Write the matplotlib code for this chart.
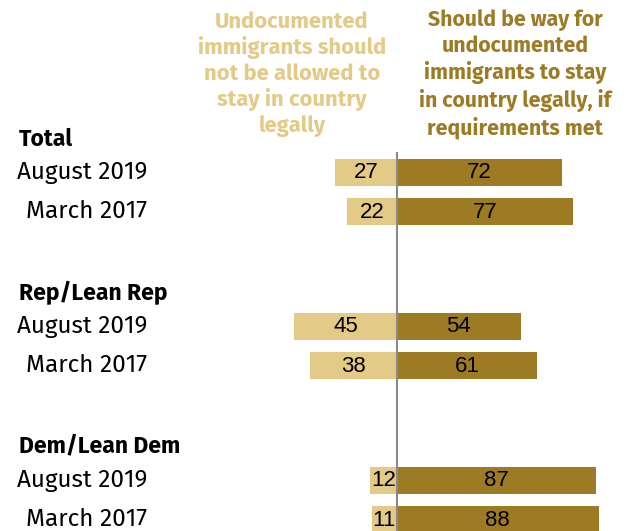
import matplotlib
matplotlib.use("Agg")
import matplotlib.pyplot as plt

groups = ["Total", "Rep/Lean Rep", "Dem/Lean Dem"]
periods = ["August 2019", "March 2017"]
not_allowed = [[27, 22], [45, 38], [12, 11]]
should_be_way = [[72, 77], [54, 61], [87, 88]]
header_left = "Undocumented\nimmigrants should\nnot be allowed to\nstay in country\nlegally"
header_right = "Should be way for\nundocumented\nimmigrants to stay\nin country legally, if\nrequirements met"

light = "#E3CA86"
dark = "#9D7B24"

labfont = ["Fira Sans", "DejaVu Sans"]
numfont = ["Liberation Sans", "DejaVu Sans"]

W, H = 634, 531
fig = plt.figure(figsize=(W / 100, H / 100), dpi=100)
ax = fig.add_axes([0, 0, 1, 1])
scale = 2.29  # px per percentage point
zero_px = 397
ax.set_xlim(-zero_px / scale, (W - zero_px) / scale)
ax.set_ylim(H, 0)
ax.axis("off")

first_row = 172
row_gap = 39
group_gap = 154
bar_h = 27


def px(x):
    return (x - zero_px) / scale


for g, grp in enumerate(groups):
    gy = first_row + g * group_gap
    ax.text(px(19), gy - 33, grp, fontsize=16.5, fontweight="bold",
            family=labfont, ha="left", va="center", color="black")
    for r, per in enumerate(periods):
        y = gy + r * row_gap
        lv = not_allowed[g][r]
        rv = should_be_way[g][r]
        ax.barh(y, -lv, height=bar_h, color=light, edgecolor="none")
        ax.barh(y, rv, height=bar_h, color=dark, edgecolor="none")
        ax.text(-lv / 2, y + 1, str(lv), ha="center", va="center", fontsize=16,
                family=numfont, color="black")
        ax.text(rv / 2, y + 1, str(rv), ha="center", va="center", fontsize=16,
                family=numfont, color="black")
        ax.text(px(147), y, per, ha="right", va="center",
                fontsize=17.5, family=labfont, color="black")

ax.plot([0, 0], [152, H], color="#8a8a8a", lw=1.5, solid_capstyle="butt")

ax.text(px(292), 74, header_left, ha="center", va="center", fontsize=15.8,
        fontweight="bold", family=labfont, color=light, linespacing=1.22)
ax.text(px(515), 74, header_right, ha="center", va="center", fontsize=15.3,
        fontweight="bold", family=labfont, color=dark, linespacing=1.25)

fig.savefig("out.png", dpi=100)
